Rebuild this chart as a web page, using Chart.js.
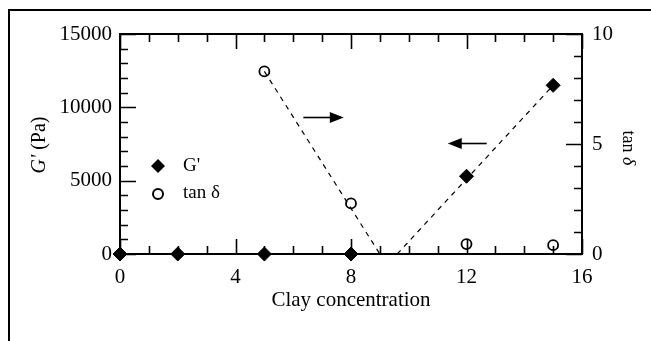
<!DOCTYPE html>
<html>
<head>
<meta charset="utf-8">
<script src="https://cdn.jsdelivr.net/npm/chart.js@4"></script>
<style>
  html, body { margin: 0; padding: 0; background: #fff; }
  #wrap { width: 651px; height: 341px; }
</style>
</head>
<body>
<div id="wrap"><canvas id="clayChart" width="651" height="341"></canvas></div>
<script>
const serif = '"Liberation Serif", "Times New Roman", serif';

// storage modulus G' (Pa) against clay concentration
const gConc = [0, 2, 5, 8, 12, 15];
const gModulus = [0, 0, 0, 0, 5300, 11500];

// loss tangent against clay concentration
const tanConc = [5, 8, 12, 15];
const tanDelta = [8.3, 2.3, 0.45, 0.4];

// dashed guide lines
const gTrendX = [9.6, 15];
const gTrendY = [0, 11500];
const tanTrendX = [5, 9];
const tanTrendY = [8.3, 0];

// arrows showing which axis a series reads from (x from -> x to, at a G' level)
const arrows = [
  { from: 6.35, to: 7.75, y: 9350 },
  { from: 12.7, to: 11.35, y: 7550 }
];

function toPoints(xs, ys) {
  return xs.map((x, i) => ({ x: x, y: ys[i] }));
}

function arrowHead(ctx, x, y, dir) {
  ctx.beginPath();
  ctx.moveTo(x, y);
  ctx.lineTo(x - dir * 14, y - 5.5);
  ctx.lineTo(x - dir * 14, y + 5.5);
  ctx.closePath();
  ctx.fill();
}

const framePlugin = {
  id: 'frame',
  beforeDatasetsDraw(chart) {
    const ctx = chart.ctx;
    const a = chart.chartArea;
    const sx = chart.scales.x, sy = chart.scales.y, sy2 = chart.scales.y2;
    ctx.save();
    ctx.strokeStyle = '#000';

    // outer box
    ctx.lineWidth = 2;
    ctx.strokeRect(9, 10, 700, 400);

    // plot box
    ctx.strokeRect(a.left, a.top, a.right - a.left, a.bottom - a.top);

    // inward ticks
    ctx.lineWidth = 1.6;
    ctx.beginPath();
    for (let v = 0; v <= 16; v++) {
      const px = Math.round(sx.getPixelForValue(v)) + 0.5;
      const len = v % 4 === 0 ? 15 : 8;
      ctx.moveTo(px, a.bottom); ctx.lineTo(px, a.bottom - len);
      ctx.moveTo(px, a.top); ctx.lineTo(px, a.top + len);
    }
    for (let v = 0; v <= 15000; v += 1000) {
      const py = Math.round(sy.getPixelForValue(v)) + 0.5;
      const len = v % 5000 === 0 ? 16 : 8;
      ctx.moveTo(a.left, py); ctx.lineTo(a.left + len, py);
    }
    for (let v = 0; v <= 10; v++) {
      const py = Math.round(sy2.getPixelForValue(v)) + 0.5;
      const len = v % 5 === 0 ? 16 : 8;
      ctx.moveTo(a.right, py); ctx.lineTo(a.right - len, py);
    }
    ctx.stroke();
    ctx.restore();
  },
  afterDatasetsDraw(chart) {
    const ctx = chart.ctx;
    const a = chart.chartArea;
    const sx = chart.scales.x, sy = chart.scales.y;
    ctx.save();
    ctx.fillStyle = '#000';
    ctx.strokeStyle = '#000';

    // arrows
    ctx.lineWidth = 1.6;
    arrows.forEach(ar => {
      const x0 = sx.getPixelForValue(ar.from);
      const x1 = sx.getPixelForValue(ar.to);
      const y = Math.round(sy.getPixelForValue(ar.y)) + 0.5;
      const dir = x1 > x0 ? 1 : -1;
      ctx.beginPath();
      ctx.moveTo(x0, y);
      ctx.lineTo(x1 - dir * 10, y);
      ctx.stroke();
      arrowHead(ctx, x1, y, dir);
    });

    // legend
    const lx = 158;
    ctx.beginPath();
    ctx.moveTo(lx - 7, 166); ctx.lineTo(lx, 159); ctx.lineTo(lx + 7, 166); ctx.lineTo(lx, 173);
    ctx.closePath();
    ctx.fill();
    ctx.lineWidth = 2;
    ctx.beginPath();
    ctx.arc(lx, 194, 5, 0, Math.PI * 2);
    ctx.stroke();
    ctx.font = '19px ' + serif;
    ctx.textBaseline = 'middle';
    ctx.textAlign = 'left';
    ctx.fillText("G'", 183, 166);
    ctx.fillText('tan \u03B4', 183, 193);

    // x axis title
    ctx.font = '21px ' + serif;
    ctx.textAlign = 'center';
    ctx.textBaseline = 'alphabetic';
    ctx.fillText('Clay concentration', (a.left + a.right) / 2, 306);

    // left axis title: italic G' then (Pa)
    ctx.save();
    ctx.translate(40, 145);
    ctx.rotate(-Math.PI / 2);
    ctx.textBaseline = 'middle';
    ctx.font = 'italic 20px ' + serif;
    const gw = ctx.measureText("G'").width;
    ctx.font = '20px ' + serif;
    const pw = ctx.measureText(' (Pa)').width;
    let start = -(gw + pw) / 2;
    ctx.textAlign = 'left';
    ctx.font = 'italic 20px ' + serif;
    ctx.fillText("G'", start, 0);
    ctx.font = '20px ' + serif;
    ctx.fillText(' (Pa)', start + gw, 0);
    ctx.restore();

    // right axis title: tan then italic delta, reading downwards
    ctx.save();
    ctx.translate(628, 148);
    ctx.rotate(Math.PI / 2);
    ctx.textBaseline = 'middle';
    ctx.font = '18px ' + serif;
    const tw = ctx.measureText('tan ').width;
    ctx.font = 'italic 18px ' + serif;
    const dw = ctx.measureText('\u03B4').width;
    start = -(tw + dw) / 2;
    ctx.textAlign = 'left';
    ctx.font = '18px ' + serif;
    ctx.fillText('tan ', start, 0);
    ctx.font = 'italic 18px ' + serif;
    ctx.fillText('\u03B4', start + tw, 0);
    ctx.restore();

    ctx.restore();
  }
};

const tickFont = { family: serif, size: 21 };
const plainLabel = v => String(v);

const ctx = document.getElementById('clayChart').getContext('2d');
const clayChart = new Chart(ctx, {
  type: 'scatter',
  data: {
    datasets: [
      {
        label: 'G\' trend',
        data: toPoints(gTrendX, gTrendY),
        yAxisID: 'y',
        showLine: true,
        borderColor: '#000',
        borderWidth: 1.2,
        borderDash: [5, 5],
        pointRadius: 0
      },
      {
        label: 'tan trend',
        data: toPoints(tanTrendX, tanTrendY),
        yAxisID: 'y2',
        showLine: true,
        borderColor: '#000',
        borderWidth: 1.2,
        borderDash: [5, 5],
        pointRadius: 0
      },
      {
        label: "G'",
        data: toPoints(gConc, gModulus),
        yAxisID: 'y',
        pointStyle: 'rectRot',
        pointRadius: 7,
        backgroundColor: '#000',
        borderColor: '#000',
        borderWidth: 1,
        clip: false
      },
      {
        label: 'tan \u03B4',
        data: toPoints(tanConc, tanDelta),
        yAxisID: 'y2',
        pointStyle: 'circle',
        pointRadius: 5,
        backgroundColor: 'rgba(0,0,0,0)',
        borderColor: '#000',
        borderWidth: 1.8,
        clip: false
      }
    ]
  },
  options: {
    responsive: false,
    animation: false,
    layout: { padding: { top: 34, left: 0, right: 0, bottom: 0 } },
    plugins: {
      legend: { display: false },
      tooltip: { enabled: false }
    },
    scales: {
      x: {
        type: 'linear',
        position: 'bottom',
        min: 0,
        max: 16,
        ticks: { stepSize: 4, padding: 11, color: '#000', font: tickFont, callback: plainLabel },
        grid: { display: false, drawTicks: false },
        border: { display: false },
        afterFit: s => { s.height = 87; }
      },
      y: {
        position: 'left',
        min: 0,
        max: 15000,
        ticks: { stepSize: 5000, padding: 8, color: '#000', font: tickFont, callback: plainLabel },
        grid: { display: false, drawTicks: false },
        border: { display: false },
        afterFit: s => { s.width = 120; }
      },
      y2: {
        position: 'right',
        min: 0,
        max: 10,
        ticks: { stepSize: 5, padding: 10, color: '#000', font: tickFont, callback: plainLabel },
        grid: { display: false, drawTicks: false },
        border: { display: false },
        afterFit: s => { s.width = 69; }
      }
    }
  },
  plugins: [framePlugin]
});
</script>
</body>
</html>
